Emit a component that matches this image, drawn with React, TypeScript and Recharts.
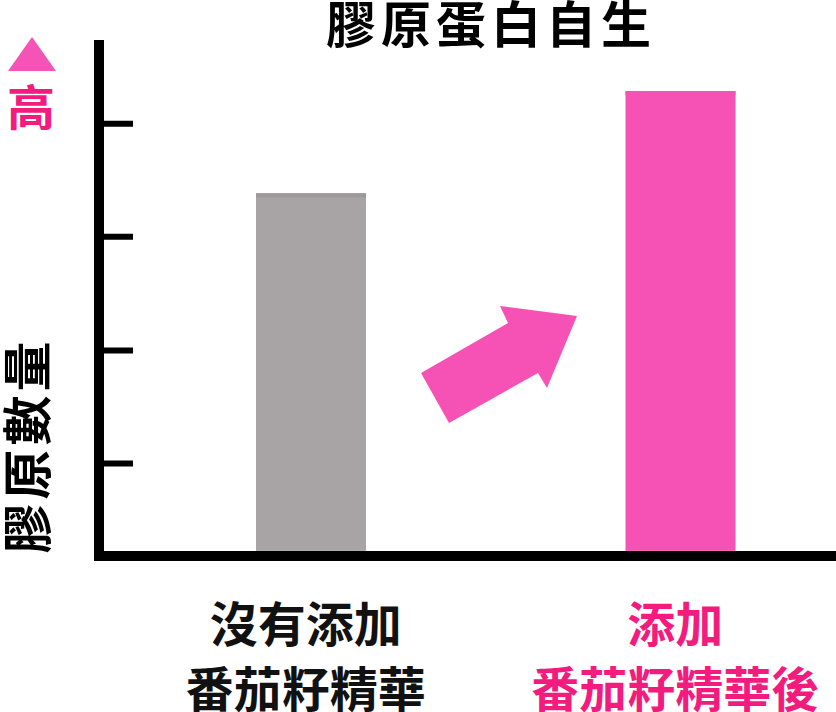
import React from 'react';
import { BarChart, Bar, XAxis, YAxis, Cell } from 'recharts';

const categories = ['沒有添加番茄籽精華', '添加番茄籽精華後'];
const collagenValues = [70, 90];
const labelLine1 = ['沒有添加', '添加'];
const labelLine2 = ['番茄籽精華', '番茄籽精華後'];
const yTicks = [17.1, 39.2, 61.5, 83.6];
const barColors = ['#A8A3A4', '#F652B5'];
const barTopColors = ['#9D999A', '#F652B5'];
const labelColors = ['#111111', '#F41B7F'];

const FONT = '"Noto Sans CJK TC", "Noto Sans CJK SC", sans-serif';

const data = categories.map((name, i) => ({ name, value: collagenValues[i] }));

const CategoryTick = (props: any) => {
  const { x, y, payload } = props;
  const i = categories.indexOf(payload.value);
  return (
    <g>
      <text x={x - 5} y={y + 86} textAnchor="middle" fontFamily={FONT} fontWeight={700} fontSize={48} fill={labelColors[i]}>
        {labelLine1[i]}
      </text>
      <text x={x - 5} y={y + 151} textAnchor="middle" fontFamily={FONT} fontWeight={700} fontSize={48} fill={labelColors[i]}>
        {labelLine2[i]}
      </text>
    </g>
  );
};

const EmptyTick = () => <g />;

const BarShape = (props: any) => {
  const { x, y, width, height, index } = props;
  return (
    <g>
      <rect x={x} y={y} width={width} height={height} fill={barColors[index]} />
      <rect x={x} y={y} width={width} height={4} fill={barTopColors[index]} />
    </g>
  );
};

export default function App() {
  return (
    <div style={{ position: 'absolute', left: 0, top: 0, width: 836, height: 712, background: '#fff' }}>
      <BarChart
        width={836}
        height={712}
        data={data}
        margin={{ top: 40, right: 0, left: 99, bottom: 0 }}
        barSize={110}
      >
        <XAxis
          dataKey="name"
          height={156}
          padding={{ left: 27, right: -29 }}
          axisLine={{ stroke: '#000', strokeWidth: 10, strokeLinecap: 'square' }}
          tickLine={false}
          tickSize={0}
          tickMargin={0}
          interval={0}
          tick={<CategoryTick />}
        />
        <YAxis
          width={1}
          type="number"
          domain={[-1, 100]}
          allowDataOverflow
          ticks={yTicks}
          interval={0}
          mirror
          tick={<EmptyTick />}
          tickSize={34}
          tickLine={{ stroke: '#000', strokeWidth: 6 }}
          axisLine={{ stroke: '#000', strokeWidth: 10 }}
        />
        <Bar dataKey="value" isAnimationActive={false} shape={<BarShape />}>
          {data.map((d, i) => (
            <Cell key={d.name} fill={barColors[i]} />
          ))}
        </Bar>
      </BarChart>
      <svg width={836} height={712} style={{ position: 'absolute', left: 0, top: 0, pointerEvents: 'none' }}>
        <text x={491} y={43} textAnchor="middle" fontFamily={FONT} fontWeight={700} fontSize={50} letterSpacing={5} fill="#000">
          膠原蛋白自生
        </text>
        <polygon points="8,71 56,71 32,37" fill="#F553B6" />
        <text x={31} y={125} textAnchor="middle" fontFamily={FONT} fontWeight={700} fontSize={48} fill="#F41B7F">
          高
        </text>
        <text
          transform="translate(26.5,447.5) rotate(-90)"
          x={2}
          y={19}
          textAnchor="middle"
          fontFamily={FONT}
          fontWeight={700}
          fontSize={50}
          letterSpacing={4}
          fill="#000"
        >
          膠原數量
        </text>
        <polygon points="421,373 449,423 538,373 547,388 577,316 500,306 508,323" fill="#F652B5" />
      </svg>
    </div>
  );
}
